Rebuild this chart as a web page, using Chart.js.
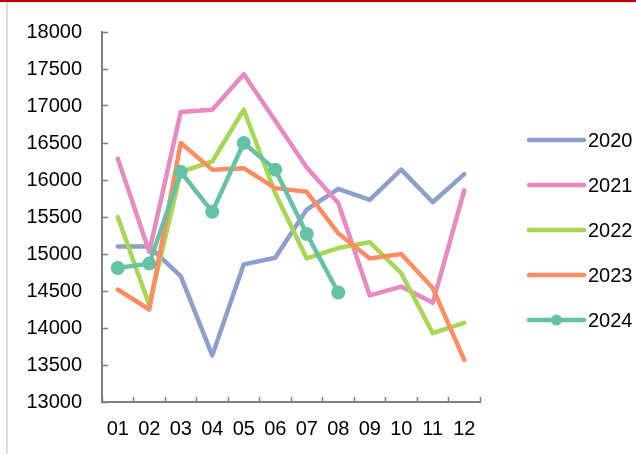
<!DOCTYPE html>
<html>
<head>
<meta charset="utf-8">
<script src="https://cdn.jsdelivr.net/npm/chart.js@4/dist/chart.umd.min.js"></script>
<style>
  html, body { margin: 0; padding: 0; background: #fff; }
  #wrap { position: relative; width: 636px; height: 454px; overflow: hidden; }
  #topbar { position: absolute; left: 0; top: 0; width: 636px; height: 2px; background: #c00000; }
  #topline { position: absolute; left: 0; top: 2px; width: 636px; height: 1px; background: #e2e2e2; }
  #leftline { position: absolute; left: 6px; top: 3px; width: 2px; height: 451px; background: #dcdcdc; }
  canvas { position: absolute; left: 0; top: 0; }
</style>
</head>
<body>
<div id="wrap">
  <canvas id="c" width="636" height="454"></canvas>
  <div id="topbar"></div>
  <div id="topline"></div>
  <div id="leftline"></div>
</div>
<script>
// Month labels and yearly series
const months = ['01', '02', '03', '04', '05', '06', '07', '08', '09', '10', '11', '12'];
const years = ['2020', '2021', '2022', '2023', '2024'];
const s2020 = [15100, 15100, 14700, 13630, 14860, 14950, 15600, 15880, 15730, 16140, 15700, 16080];
const s2021 = [16290, 15030, 16920, 16950, 17430, 16800, 16170, 15690, 14440, 14560, 14340, 15860];
const s2022 = [15500, 14310, 16110, 16250, 16950, 15820, 14940, 15080, 15160, 14740, 13930, 14070];
const s2023 = [14520, 14250, 16500, 16140, 16160, 15890, 15840, 15280, 14940, 15000, 14540, 13570];
const s2024 = [14810, 14870, 16110, 15570, 16500, 16140, 15270, 14480];
const yMin = 13000, yMax = 18000, yStep = 500;

const colors = ['#8da0cb', '#e78ac3', '#a6d854', '#fc8d62', '#66c2a5'];
const seriesList = [s2020, s2021, s2022, s2023, s2024];

const FONT = '"Liberation Sans", Arial, sans-serif';
const AXIS = '#7f7f7f';

const datasets = seriesList.map((vals, i) => ({
  label: years[i],
  data: vals,
  borderColor: colors[i],
  backgroundColor: colors[i],
  borderWidth: 4.5,
  borderJoinStyle: 'round',
  borderCapStyle: 'round',
  pointRadius: i === 4 ? 7 : 0,
  pointHoverRadius: i === 4 ? 7 : 0,
  pointBorderWidth: 0,
  tension: 0,
  fill: false,
  order: seriesList.length - i
}));

// Legend on the right: a short line per series, with a dot for series that show markers
const sideLegend = {
  id: 'sideLegend',
  afterDraw(chart) {
    const ctx = chart.ctx;
    const x0 = 529, x1 = 584, tx = 588, y0 = 140, dy = 45;
    ctx.save();
    chart.data.datasets.forEach((ds, i) => {
      const y = y0 + i * dy;
      ctx.strokeStyle = ds.borderColor;
      ctx.lineWidth = 4.5;
      ctx.lineCap = 'round';
      ctx.beginPath();
      ctx.moveTo(x0, y);
      ctx.lineTo(x1, y);
      ctx.stroke();
      if (ds.pointRadius > 0) {
        ctx.fillStyle = ds.borderColor;
        ctx.beginPath();
        ctx.arc((x0 + x1) / 2, y, 5.5, 0, Math.PI * 2);
        ctx.fill();
      }
      ctx.fillStyle = '#000';
      ctx.font = '20px ' + FONT;
      ctx.textAlign = 'left';
      ctx.textBaseline = 'middle';
      ctx.fillText(ds.label, tx, y + 1);
    });
    ctx.restore();
  }
};

new Chart(document.getElementById('c'), {
  type: 'line',
  data: { labels: months, datasets },
  plugins: [sideLegend],
  options: {
    responsive: false,
    animation: false,
    events: [],
    layout: { padding: { top: 32, left: 26, right: 156, bottom: 0 } },
    plugins: { legend: { display: false }, tooltip: { enabled: false } },
    scales: {
      x: {
        offset: true,
        grid: {
          offset: true,
          drawOnChartArea: false,
          drawTicks: true,
          tickLength: -5,
          tickWidth: 1.5,
          tickColor: AXIS
        },
        border: { display: true, color: AXIS, width: 2 },
        ticks: { color: '#000', font: { family: FONT, size: 20 }, padding: 20, maxRotation: 0, autoSkip: false },
        afterFit(scale) { scale.height = 52; }
      },
      y: {
        min: yMin,
        max: yMax,
        grid: {
          drawOnChartArea: false,
          drawTicks: true,
          tickLength: -6,
          tickWidth: 1.5,
          tickColor: AXIS
        },
        border: { display: true, color: AXIS, width: 2 },
        ticks: {
          stepSize: yStep, color: '#000', font: { family: FONT, size: 20 }, padding: 26,
          callback: (v) => String(v)
        },
        // ticks point inward, so labels need only half their height above and below
        afterFit(scale) {
          scale.width = 76;
          scale.paddingTop = 12;
          scale.paddingBottom = 12;
        }
      }
    }
  }
});
</script>
</body>
</html>
